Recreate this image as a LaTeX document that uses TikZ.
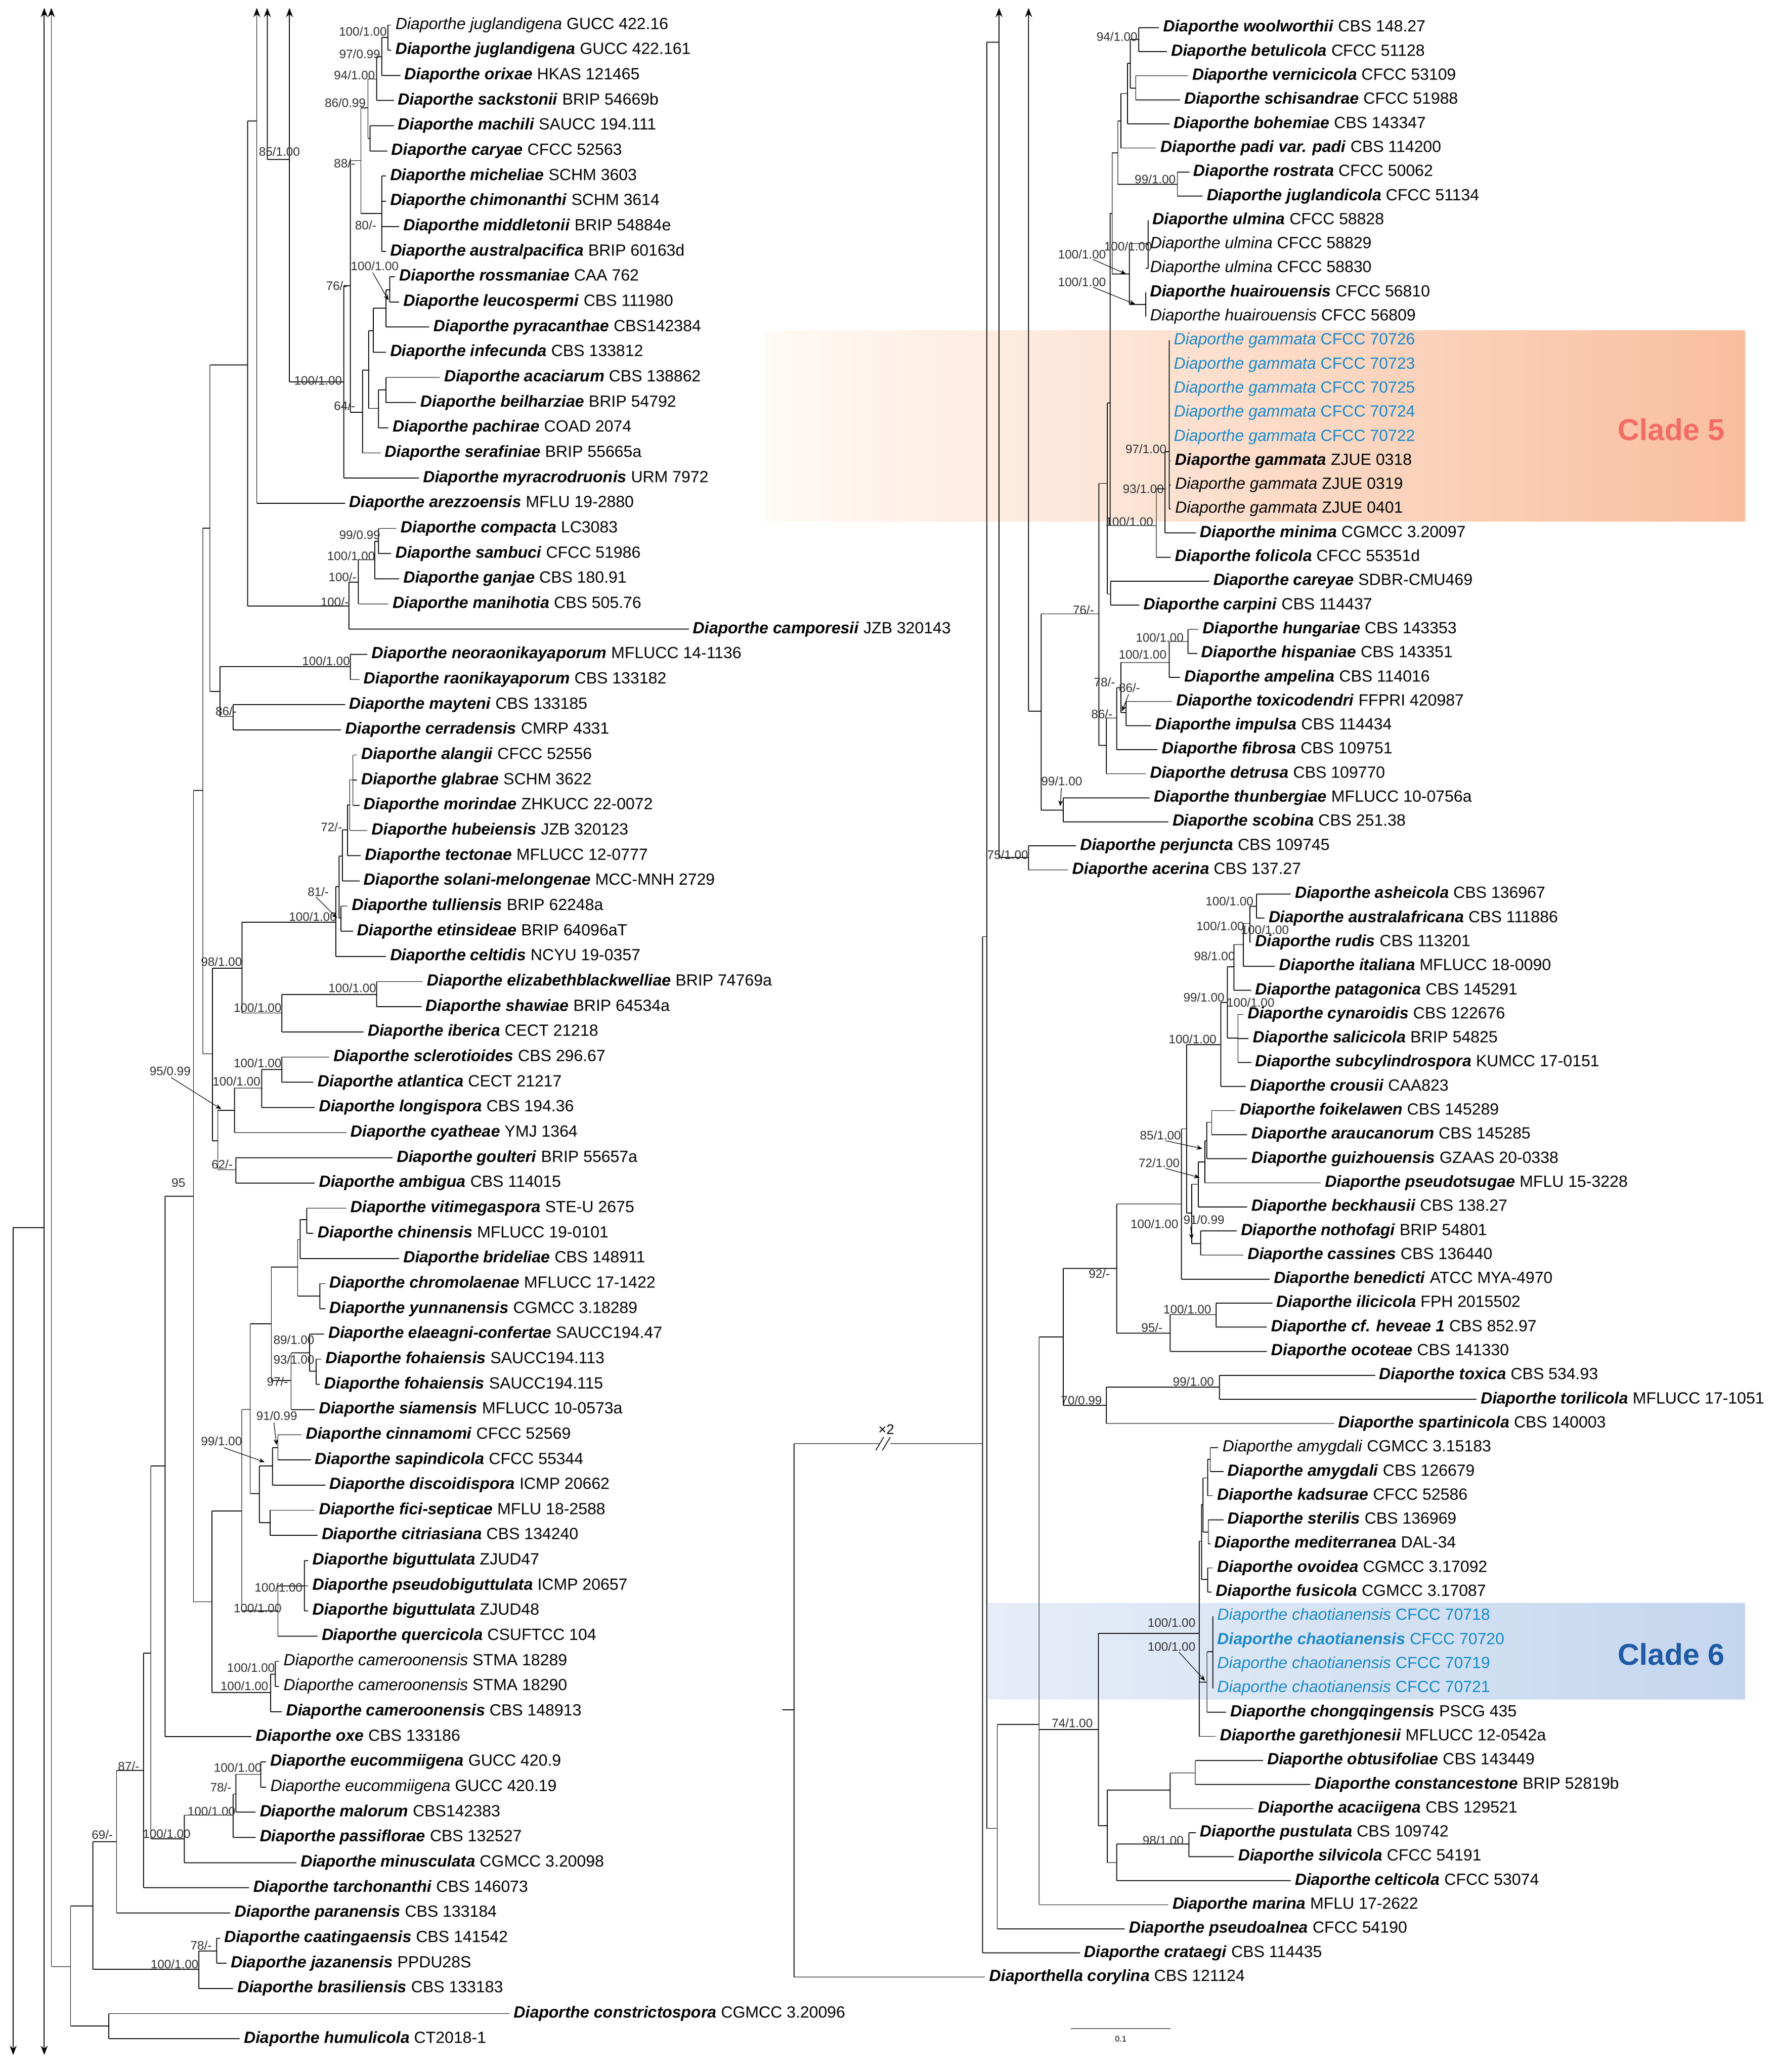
\documentclass[tikz,border=0pt]{standalone}
\usepackage{fontspec}
\setmainfont{Liberation Sans}
\usetikzlibrary{arrows.meta}
\definecolor{cblue}{HTML}{1B8ACB}
\definecolor{cfive}{HTML}{F26C64}
\definecolor{csix}{HTML}{1F5AA6}
\newcounter{tp}
\newcounter{bp}
\newcommand\Bn[2]{\textbf{\textit{Diaporthe #1}} #2}
\newcommand\Nn[2]{\textit{Diaporthe #1} #2}
\newcommand\In[5]{\draw (#1,#2)--(#1,#3); \draw (#4,#5)--(#1,#5);}
\newcommand\Lt[4]{\stepcounter{tp}\pgfmathsetmacro\yy{19+19.11*(#2-1)}\draw (#1,\yy)--({#3-3},\yy); \node[tip] (tip\arabic{tp}) at (#3,\yy) {#4};}
\newcommand\Rt[4]{\stepcounter{tp}\pgfmathsetmacro\yy{21+18.27*(#2-1)}\draw (#1,\yy)--({#3-3},\yy); \node[tip] (tip\arabic{tp}) at (#3,\yy) {#4};}
\newcommand\Bv[3]{\stepcounter{bp}\node[bsl] (bs\arabic{bp}) at (#1,#2) {#3};}
\begin{document}
\begin{tikzpicture}[x=0.02cm,y=-0.02cm,line width=0.35pt,
  tip/.style={anchor=west,inner sep=0pt,font=\fontsize{7}{8}\selectfont},
  bsl/.style={anchor=east,inner sep=0pt,font=\fontsize{5.3}{6}\selectfont,text=black!80},
  ar/.style={-{Stealth[length=4pt,width=3pt]}},
  ptr/.style={-{Stealth[length=2.5pt,width=2pt]},line width=0.25pt}]
\useasboundingbox (0,0) rectangle (1350,1573);
\shade[left color=orange!4, right color={rgb,255:red,249;green,190;blue,158}] (581,251) rectangle (1325,396);
\shade[left color={rgb,255:red,230;green,237;blue,248}, right color={rgb,255:red,196;green,214;blue,238}] (750,1217) rectangle (1325,1290);
\node[font=\bfseries\fontsize{13}{14}\selectfont,text=cfive] (c5) at (1269,326) {Clade 5};
\node[font=\bfseries\fontsize{13}{14}\selectfont,text=csix] (c6) at (1269,1256) {Clade 6};
% ===== left tree special lines
\draw[ar] (195,382.1)--(195,6);
\draw (188,92)--(195,92);
\draw[ar] (203,121)--(203,6);
\draw (203,121)--(219.8,121);
\draw[ar] (219.8,290)--(219.8,6);
\draw[ar] (39,1493)--(39,6);
\draw[ar] (33.6,300)--(33.6,6);
\draw[ar] (33.6,300)--(33.6,1560);
\draw[ar] (10,932)--(10,1560);
\draw (10,932)--(33.6,932);
% internal nodes left
\In{294.5}{19}{38.1}{290}{28.5}
\In{290}{28.5}{57.2}{286}{43}
\In{286}{43}{76.3}{279.4}{60}
\In{281}{95.4}{114.6}{279.4}{105}
\In{279.4}{60}{105}{274}{82}
\In{290}{133.7}{191}{274}{162}
\In{274}{82}{162}{266}{122}
\In{296}{210.1}{229.2}{293}{220}
\In{293}{220}{248.3}{283.4}{234}
\In{283.4}{234}{267.4}{280}{251}
\In{293}{286.5}{305.7}{287.4}{296}
\In{287.4}{296}{324.8}{280}{310}
\In{280}{251}{310}{275.4}{281}
\In{275.4}{281}{343.9}{266}{313}
\In{266}{122}{313}{261}{217}
\In{261}{217}{363}{219.8}{290}
\In{287.4}{401.2}{420.3}{284.6}{411}
\In{284.6}{411}{439.4}{272}{425}
\In{272}{425}{458.5}{265}{442}
\In{265}{442}{477.6}{188}{460}
\In{188}{92}{460}{159.4}{277}
\In{266}{496.8}{515.9}{167}{506}
\In{177}{535}{554.1}{167}{544}
\In{167}{506}{544}{159.4}{525}
\In{159.4}{277}{525}{154}{401}
\In{268}{573.2}{611.4}{265.5}{592}
\In{265.5}{592}{630.5}{264}{611}
\In{264}{611}{649.6}{260}{630}
\In{260}{630}{668.7}{257.6}{650}
\In{259}{687.9}{707}{257.6}{697}
\In{257.6}{650}{697}{255}{673}
\In{255}{673}{726.1}{183.7}{700}
\In{286}{745.2}{764.3}{214}{755}
\In{214}{755}{783.4}{183.7}{769}
\In{183.7}{700}{769}{161.4}{735}
\In{214}{802.5}{821.6}{198.8}{812}
\In{198.8}{812}{840.7}{178}{826}
\In{178}{826}{859.8}{165.4}{843}
\In{179}{879}{898.1}{165.4}{888}
\In{165.4}{843}{888}{161.4}{866}
\In{161.4}{735}{866}{154}{800}
\In{154}{401}{800}{146.9}{600}
\In{233}{917.2}{936.3}{228}{926}
\In{228}{926}{955.4}{226}{941}
\In{243}{974.5}{993.6}{226}{984}
\In{226}{941}{984}{206}{962}
\In{240}{1031.8}{1050.9}{235}{1041}
\In{235}{1012.7}{1041}{221}{1027}
\In{221}{1027}{1070.1}{206}{1048}
\In{206}{962}{1048}{190}{1005}
\In{211}{1089.2}{1108.3}{207}{1099}
\In{207}{1099}{1127.4}{197}{1113}
\In{205}{1146.5}{1165.6}{197}{1156}
\In{197}{1113}{1156}{190}{1134}
\In{190}{1005}{1134}{183.6}{1070}
\In{231}{1184.7}{1222.9}{211}{1204}
\In{211}{1204}{1242}{183.6}{1223}
\In{183.6}{1070}{1223}{160.9}{1147}
\In{209}{1261.2}{1280.3}{205.4}{1271}
\In{205.4}{1271}{1299.4}{160.9}{1285}
\In{160.9}{1147}{1285}{146.9}{1216}
\In{146.9}{600}{1216}{125.4}{908}
\In{125.4}{908}{1318.5}{114.5}{1113}
\In{198}{1337.6}{1356.7}{179}{1347}
\In{179}{1347}{1375.8}{177}{1362}
\In{177}{1362}{1394.9}{140}{1378}
\In{140}{1378}{1414}{114.5}{1396}
\In{114.5}{1113}{1396}{109}{1255}
\In{109}{1255}{1433.1}{88.5}{1344}
\In{88.5}{1344}{1452.3}{70.5}{1398}
\In{164.5}{1471.4}{1490.5}{151}{1481}
\In{151}{1481}{1509.6}{70.5}{1495}
\In{70.5}{1398}{1495}{53.6}{1447}
\In{82.7}{1528.7}{1547.8}{53.6}{1538}
\In{53.6}{1447}{1538}{39}{1493}
% tips left
\Lt{294.5}{1}{300}{\Nn{juglandigena}{GUCC 422.16}}
\Lt{294.5}{2}{300}{\Bn{juglandigena}{GUCC 422.161}}
\Lt{290}{3}{307}{\Bn{orixae}{HKAS 121465}}
\Lt{286}{4}{302}{\Bn{sackstonii}{BRIP 54669b}}
\Lt{281}{5}{302}{\Bn{machili}{SAUCC 194.111}}
\Lt{281}{6}{297}{\Bn{caryae}{CFCC 52563}}
\Lt{290}{7}{296}{\Bn{micheliae}{SCHM 3603}}
\Lt{290}{8}{296}{\Bn{chimonanthi}{SCHM 3614}}
\Lt{290}{9}{306}{\Bn{middletonii}{BRIP 54884e}}
\Lt{290}{10}{296}{\Bn{australpacifica}{BRIP 60163d}}
\Lt{296}{11}{303}{\Bn{rossmaniae}{CAA 762}}
\Lt{296}{12}{306}{\Bn{leucospermi}{CBS 111980}}
\Lt{293}{13}{329}{\Bn{pyracanthae}{CBS142384}}
\Lt{283.4}{14}{296}{\Bn{infecunda}{CBS 133812}}
\Lt{293}{15}{337}{\Bn{acaciarum}{CBS 138862}}
\Lt{293}{16}{319}{\Bn{beilharziae}{BRIP 54792}}
\Lt{287.4}{17}{298}{\Bn{pachirae}{COAD 2074}}
\Lt{275.4}{18}{292}{\Bn{serafiniae}{BRIP 55665a}}
\Lt{261}{19}{321}{\Bn{myracrodruonis}{URM 7972}}
\Lt{195}{20}{265}{\Bn{arezzoensis}{MFLU 19-2880}}
\Lt{287.4}{21}{304}{\Bn{compacta}{LC3083}}
\Lt{287.4}{22}{300}{\Bn{sambuci}{CFCC 51986}}
\Lt{284.6}{23}{306}{\Bn{ganjae}{CBS 180.91}}
\Lt{272}{24}{298}{\Bn{manihotia}{CBS 505.76}}
\Lt{265}{25}{526}{\Bn{camporesii}{JZB 320143}}
\Lt{266}{26}{282}{\Bn{neoraonikayaporum}{MFLUCC 14-1136}}
\Lt{266}{27}{276}{\Bn{raonikayaporum}{CBS 133182}}
\Lt{177}{28}{265}{\Bn{mayteni}{CBS 133185}}
\Lt{177}{29}{262}{\Bn{cerradensis}{CMRP 4331}}
\Lt{268}{30}{274}{\Bn{alangii}{CFCC 52556}}
\Lt{268}{31}{274}{\Bn{glabrae}{SCHM 3622}}
\Lt{268}{32}{276}{\Bn{morindae}{ZHKUCC 22-0072}}
\Lt{265.5}{33}{282}{\Bn{hubeiensis}{JZB 320123}}
\Lt{264}{34}{277}{\Bn{tectonae}{MFLUCC 12-0777}}
\Lt{260}{35}{276}{\Bn{solani-melongenae}{MCC-MNH 2729}}
\Lt{259}{36}{267}{\Bn{tulliensis}{BRIP 62248a}}
\Lt{259}{37}{271}{\Bn{etinsideae}{BRIP 64096aT}}
\Lt{255}{38}{296}{\Bn{celtidis}{NCYU 19-0357}}
\Lt{286}{39}{324}{\Bn{elizabethblackwelliae}{BRIP 74769a}}
\Lt{286}{40}{323}{\Bn{shawiae}{BRIP 64534a}}
\Lt{214}{41}{279}{\Bn{iberica}{CECT 21218}}
\Lt{214}{42}{253}{\Bn{sclerotioides}{CBS 296.67}}
\Lt{214}{43}{241}{\Bn{atlantica}{CECT 21217}}
\Lt{198.8}{44}{242}{\Bn{longispora}{CBS 194.36}}
\Lt{178}{45}{266}{\Bn{cyatheae}{YMJ 1364}}
\Lt{179}{46}{301}{\Bn{goulteri}{BRIP 55657a}}
\Lt{179}{47}{242}{\Bn{ambigua}{CBS 114015}}
\Lt{233}{48}{266}{\Bn{vitimegaspora}{STE-U 2675}}
\Lt{233}{49}{241}{\Bn{chinensis}{MFLUCC 19-0101}}
\Lt{228}{50}{306}{\Bn{brideliae}{CBS 148911}}
\Lt{243}{51}{250}{\Bn{chromolaenae}{MFLUCC 17-1422}}
\Lt{243}{52}{250}{\Bn{yunnanensis}{CGMCC 3.18289}}
\Lt{235}{53}{249}{\Bn{elaeagni-confertae}{SAUCC194.47}}
\Lt{240}{54}{247}{\Bn{fohaiensis}{SAUCC194.113}}
\Lt{240}{55}{246}{\Bn{fohaiensis}{SAUCC194.115}}
\Lt{221}{56}{242}{\Bn{siamensis}{MFLUCC 10-0573a}}
\Lt{211}{57}{232}{\Bn{cinnamomi}{CFCC 52569}}
\Lt{211}{58}{239}{\Bn{sapindicola}{CFCC 55344}}
\Lt{207}{59}{250}{\Bn{discoidispora}{ICMP 20662}}
\Lt{205}{60}{242}{\Bn{fici-septicae}{MFLU 18-2588}}
\Lt{205}{61}{244}{\Bn{citriasiana}{CBS 134240}}
\Lt{231}{62}{237}{\Bn{biguttulata}{ZJUD47}}
\Lt{231}{63}{237}{\Bn{pseudobiguttulata}{ICMP 20657}}
\Lt{231}{64}{237}{\Bn{biguttulata}{ZJUD48}}
\Lt{211}{65}{244}{\Bn{quercicola}{CSUFTCC 104}}
\Lt{209}{66}{215}{\Nn{cameroonensis}{STMA 18289}}
\Lt{209}{67}{215}{\Nn{cameroonensis}{STMA 18290}}
\Lt{205.4}{68}{217}{\Bn{cameroonensis}{CBS 148913}}
\Lt{125.4}{69}{194}{\Bn{oxe}{CBS 133186}}
\Lt{198}{70}{205}{\Bn{eucommiigena}{GUCC 420.9}}
\Lt{198}{71}{205}{\Nn{eucommiigena}{GUCC 420.19}}
\Lt{179}{72}{197}{\Bn{malorum}{CBS142383}}
\Lt{177}{73}{197}{\Bn{passiflorae}{CBS 132527}}
\Lt{140}{74}{228}{\Bn{minusculata}{CGMCC 3.20098}}
\Lt{109}{75}{192}{\Bn{tarchonanthi}{CBS 146073}}
\Lt{88.5}{76}{178}{\Bn{paranensis}{CBS 133184}}
\Lt{164.5}{77}{170}{\Bn{caatingaensis}{CBS 141542}}
\Lt{164.5}{78}{175}{\Bn{jazanensis}{PPDU28S}}
\Lt{151}{79}{180}{\Bn{brasiliensis}{CBS 133183}}
\Lt{82.7}{80}{390}{\Bn{constrictospora}{CGMCC 3.20096}}
\Lt{82.7}{81}{185}{\Bn{humulicola}{CT2018-1}}
% left bootstrap
\Bv{294}{24}{100/1.00}\Bv{289}{41}{97/0.99}\Bv{285}{57}{94/1.00}\Bv{278}{78}{86/0.99}
\Bv{228}{115}{85/1.00}\Bv{270}{124}{88/-}\Bv{286}{171}{80/-}\Bv{303}{202}{100/1.00}
\Bv{264}{217}{76/-}\Bv{260}{289}{100/1.00}\Bv{270}{308}{64/-}\Bv{289}{406}{99/0.99}
\Bv{285}{422}{100/1.00}\Bv{271}{438}{100/-}\Bv{265}{457}{100/-}\Bv{266}{502}{100/1.00}
\Bv{180}{540}{86/-}\Bv{260}{628}{72/-}\Bv{250}{677}{81/-}\Bv{256}{696}{100/1.00}
\Bv{184}{730}{98/1.00}\Bv{286}{750}{100/1.00}\Bv{214}{765}{100/1.00}\Bv{214}{807}{100/1.00}
\Bv{198}{821}{100/1.00}\Bv{145}{813}{95/0.99}\Bv{177}{884}{62/-}\Bv{141}{898}{95}
\Bv{239}{1017}{89/1.00}\Bv{239}{1032}{93/1.00}\Bv{219}{1049}{97/-}\Bv{226}{1075}{91/0.99}
\Bv{184}{1094}{99/1.00}\Bv{230}{1205}{100/1.00}\Bv{214}{1221}{100/1.00}\Bv{209}{1266}{100/1.00}
\Bv{204}{1280}{100/1.00}\Bv{106}{1341}{87/-}\Bv{199}{1342}{100/1.00}\Bv{176}{1357}{78/-}
\Bv{179}{1375}{100/1.00}\Bv{145}{1392}{100/1.00}\Bv{86}{1393}{69/-}\Bv{161}{1477}{78/-}
\Bv{151}{1491}{100/1.00}
\draw[ptr] (283,207)--(295,228);
\draw[ptr] (240,681)--(256,697);
\draw[ptr] (130,818)--(168,842);
\draw[ptr] (208,1080)--(210,1097);
\draw[ptr] (170,1099)--(201,1110);
% ===== right tree
\draw[ar] (781,540)--(781,6);
\draw[ar] (758.6,651)--(758.6,6);
\draw (749.4,32)--(749.4,1388);
\draw (749.4,32)--(758.6,32);
\draw (746,711)--(746,1482.6);
\draw (746,711)--(749.4,711);
\draw (603,1096)--(603,1500.9);
\draw (594,1298)--(603,1298);
\draw (603,1096)--(746,1096);
\fill[white] (668,1092) rectangle (676,1100);
\draw (665,1101)--(671,1091) (670,1101)--(676,1091);
\node[font=\fontsize{6}{7}\selectfont,inner sep=0pt] (x2) at (673,1085) {×2};
\In{864.7}{21}{39.3}{858.3}{30}
\In{862.3}{57.5}{75.8}{858.3}{67}
\In{858.3}{30}{67}{856}{48}
\In{856}{48}{94.1}{851}{71}
\In{851}{71}{112.4}{848.8}{92}
\In{894}{130.6}{148.9}{848.8}{140}
\In{848.8}{92}{140}{844.5}{116}
\In{871.8}{167.2}{203.7}{857.5}{185}
\In{870}{222}{240.2}{857.5}{231}
\In{857.5}{185}{231}{844.5}{208}
\In{844.5}{116}{208}{843}{162}
\In{887.7}{258.5}{386.4}{884.6}{343}
\In{884.6}{343}{404.7}{878}{371}
\In{878}{371}{423}{843}{399}
\In{843}{162}{399}{840.8}{306}
\In{843.2}{441.2}{459.5}{840.8}{451}
\In{840.8}{306}{451}{834.5}{367}
\In{902}{477.8}{496}{887.7}{487}
\In{887.7}{487}{514.3}{851}{503}
\In{855}{532.6}{550.8}{851}{541}
\In{851}{503}{541}{848}{522}
\In{848}{522}{569.1}{840}{545}
\In{840}{545}{587.4}{834.5}{566}
\In{834.5}{367}{566}{790.7}{466}
\In{807.4}{605.6}{623.9}{790.7}{615}
\In{790.7}{466}{615}{781}{540}
\In{781}{642.2}{660.5}{758.6}{651}
\In{954}{678.7}{697}{949}{688}
\In{949}{688}{715.3}{944}{701}
\In{944}{701}{733.5}{937}{717}
\In{937}{717}{751.8}{932}{734}
\In{940}{770.1}{806.6}{932}{788}
\In{932}{734}{788}{927}{761}
\In{927}{761}{824.9}{901}{793}
\In{920}{843.1}{861.4}{916.4}{852}
\In{916.4}{852}{879.7}{914.8}{866}
\In{914.8}{866}{898}{910}{882}
\In{910}{882}{916.2}{905}{899}
\In{911.6}{934.5}{952.8}{905}{944}
\In{905}{899}{944}{901}{921}
\In{901}{793}{921}{897}{857}
\In{897}{857}{971}{848}{914}
\In{923.5}{989.3}{1007.6}{888.5}{998}
\In{888.5}{998}{1025.8}{848}{1012}
\In{848}{914}{1012}{807.4}{963}
\In{926}{1044.1}{1062.4}{840}{1053}
\In{840}{1053}{1080.7}{807.4}{1067}
\In{807.4}{963}{1067}{789}{1015}
\In{919}{1098.9}{1117.2}{917}{1108}
\In{917}{1108}{1135.5}{913.5}{1122}
\In{917.5}{1153.7}{1172}{913.5}{1163}
\In{913.5}{1122}{1163}{912.5}{1142}
\In{917}{1190.3}{1208.5}{912.5}{1199}
\In{912.5}{1142}{1199}{910.5}{1170}
\In{921}{1226.8}{1281.6}{916.5}{1254}
\In{916.5}{1254}{1299.9}{910.5}{1277}
\In{910.5}{1170}{1318.2}{834}{1240}
\In{907.6}{1336.4}{1354.7}{888.5}{1346}
\In{888.5}{1346}{1373}{840.8}{1359}
\In{902.8}{1391.2}{1409.5}{848}{1400}
\In{848}{1400}{1427.8}{840.8}{1414}
\In{840.8}{1359}{1414}{834}{1386}
\In{834}{1240}{1386}{789}{1313}
\In{789}{1015}{1446}{757.3}{1309}
\In{757.3}{1309}{1464.3}{749.4}{1388}
% right tips
\Rt{864.7}{1}{883}{\Bn{woolworthii}{CBS 148.27}}
\Rt{864.7}{2}{889}{\Bn{betulicola}{CFCC 51128}}
\Rt{862.3}{3}{905}{\Bn{vernicicola}{CFCC 53109}}
\Rt{862.3}{4}{899}{\Bn{schisandrae}{CFCC 51988}}
\Rt{856}{5}{891}{\Bn{bohemiae}{CBS 143347}}
\Rt{851}{6}{881}{\Bn{padi var. padi}{CBS 114200}}
\Rt{894}{7}{906}{\Bn{rostrata}{CFCC 50062}}
\Rt{894}{8}{916}{\Bn{juglandicola}{CFCC 51134}}
\Rt{871.8}{9}{875}{\Bn{ulmina}{CFCC 58828}}
\Rt{871.8}{10}{873}{\Nn{ulmina}{CFCC 58829}}
\Rt{871.8}{11}{873}{\Nn{ulmina}{CFCC 58830}}
\Rt{870}{12}{873}{\Bn{huairouensis}{CFCC 56810}}
\Rt{870}{13}{873}{\Nn{huairouensis}{CFCC 56809}}
\Rt{887.7}{14}{891}{\textcolor{cblue}{\Nn{gammata}{CFCC 70726}}}
\Rt{887.7}{15}{891}{\textcolor{cblue}{\Nn{gammata}{CFCC 70723}}}
\Rt{887.7}{16}{891}{\textcolor{cblue}{\Nn{gammata}{CFCC 70725}}}
\Rt{887.7}{17}{891}{\textcolor{cblue}{\Nn{gammata}{CFCC 70724}}}
\Rt{887.7}{18}{891}{\textcolor{cblue}{\Nn{gammata}{CFCC 70722}}}
\Rt{887.7}{19}{892}{\Bn{gammata}{ZJUE 0318}}
\Rt{887.7}{20}{892}{\Nn{gammata}{ZJUE 0319}}
\Rt{887.7}{21}{892}{\Nn{gammata}{ZJUE 0401}}
\Rt{884.6}{22}{911}{\Bn{minima}{CGMCC 3.20097}}
\Rt{878}{23}{892}{\Bn{folicola}{CFCC 55351d}}
\Rt{843.2}{24}{921}{\Bn{careyae}{SDBR-CMU469}}
\Rt{843.2}{25}{868}{\Bn{carpini}{CBS 114437}}
\Rt{902}{26}{913}{\Bn{hungariae}{CBS 143353}}
\Rt{902}{27}{912}{\Bn{hispaniae}{CBS 143351}}
\Rt{887.7}{28}{899}{\Bn{ampelina}{CBS 114016}}
\Rt{855}{29}{893}{\Bn{toxicodendri}{FFPRI 420987}}
\Rt{855}{30}{877}{\Bn{impulsa}{CBS 114434}}
\Rt{848}{31}{882}{\Bn{fibrosa}{CBS 109751}}
\Rt{840}{32}{873}{\Bn{detrusa}{CBS 109770}}
\Rt{807.4}{33}{876}{\Bn{thunbergiae}{MFLUCC 10-0756a}}
\Rt{807.4}{34}{890}{\Bn{scobina}{CBS 251.38}}
\Rt{781}{35}{820}{\Bn{perjuncta}{CBS 109745}}
\Rt{781}{36}{814}{\Bn{acerina}{CBS 137.27}}
\Rt{954}{37}{983}{\Bn{asheicola}{CBS 136967}}
\Rt{954}{38}{963}{\Bn{australafricana}{CBS 111886}}
\Rt{949}{39}{953}{\Bn{rudis}{CBS 113201}}
\Rt{944}{40}{971}{\Bn{italiana}{MFLUCC 18-0090}}
\Rt{937}{41}{953}{\Bn{patagonica}{CBS 145291}}
\Rt{940}{42}{947}{\Bn{cynaroidis}{CBS 122676}}
\Rt{940}{43}{951}{\Bn{salicicola}{BRIP 54825}}
\Rt{940}{44}{953}{\Bn{subcylindrospora}{KUMCC 17-0151}}
\Rt{927}{45}{949}{\Bn{crousii}{CAA823}}
\Rt{920}{46}{941}{\Bn{foikelawen}{CBS 145289}}
\Rt{920}{47}{950}{\Bn{araucanorum}{CBS 145285}}
\Rt{916.4}{48}{950}{\Bn{guizhouensis}{GZAAS 20-0338}}
\Rt{914.8}{49}{1006}{\Bn{pseudotsugae}{MFLU 15-3228}}
\Rt{910}{50}{950}{\Bn{beckhausii}{CBS 138.27}}
\Rt{911.6}{51}{942}{\Bn{nothofagi}{BRIP 54801}}
\Rt{911.6}{52}{947}{\Bn{cassines}{CBS 136440}}
\Rt{897}{53}{967}{\Bn{benedicti}{ATCC MYA-4970}}
\Rt{923.5}{54}{969}{\Bn{ilicicola}{FPH 2015502}}
\Rt{923.5}{55}{965}{\Bn{cf. heveae 1}{CBS 852.97}}
\Rt{888.5}{56}{965}{\Bn{ocoteae}{CBS 141330}}
\Rt{926}{57}{1047}{\Bn{toxica}{CBS 534.93}}
\Rt{926}{58}{1124}{\Bn{torilicola}{MFLUCC 17-1051}}
\Rt{840}{59}{1016}{\Bn{spartinicola}{CBS 140003}}
\Rt{919}{60}{928}{\Nn{amygdali}{CGMCC 3.15183}}
\Rt{919}{61}{932}{\Bn{amygdali}{CBS 126679}}
\Rt{917}{62}{924}{\Bn{kadsurae}{CFCC 52586}}
\Rt{917.5}{63}{932}{\Bn{sterilis}{CBS 136969}}
\Rt{917.5}{64}{922}{\Bn{mediterranea}{DAL-34}}
\Rt{917}{65}{924}{\Bn{ovoidea}{CGMCC 3.17092}}
\Rt{917}{66}{923}{\Bn{fusicola}{CGMCC 3.17087}}
\Rt{921}{67}{924}{\textcolor{cblue}{\Nn{chaotianensis}{CFCC 70718}}}
\Rt{921}{68}{924}{\textcolor{cblue}{\Bn{chaotianensis}{CFCC 70720}}}
\Rt{921}{69}{924}{\textcolor{cblue}{\Nn{chaotianensis}{CFCC 70719}}}
\Rt{921}{70}{924}{\textcolor{cblue}{\Nn{chaotianensis}{CFCC 70721}}}
\Rt{916.5}{71}{934}{\Bn{chongqingensis}{PSCG 435}}
\Rt{910.5}{72}{926}{\Bn{garethjonesii}{MFLUCC 12-0542a}}
\Rt{907.6}{73}{962}{\Bn{obtusifoliae}{CBS 143449}}
\Rt{907.6}{74}{998}{\Bn{constancestone}{BRIP 52819b}}
\Rt{888.5}{75}{955}{\Bn{acaciigena}{CBS 129521}}
\Rt{902.8}{76}{911}{\Bn{pustulata}{CBS 109742}}
\Rt{902.8}{77}{940}{\Bn{silvicola}{CFCC 54191}}
\Rt{848}{78}{983}{\Bn{celticola}{CFCC 53074}}
\Rt{789}{79}{890}{\Bn{marina}{MFLU 17-2622}}
\Rt{757.3}{80}{857}{\Bn{pseudoalnea}{CFCC 54190}}
\Rt{746}{81}{823}{\Bn{crataegi}{CBS 114435}}
\Rt{603}{82}{751}{\textbf{\textit{Diaporthella corylina}} CBS 121124}
% right bootstrap
\Bv{864}{28}{94/1.00}\Bv{893}{136}{99/1.00}\Bv{875}{187}{100/1.00}\Bv{840}{193}{100/1.00}
\Bv{840}{214}{100/1.00}\Bv{886}{341}{97/1.00}\Bv{884}{371}{93/1.00}\Bv{876}{396}{100/1.00}
\Bv{831}{463}{76/-}\Bv{899}{484}{100/1.00}\Bv{886}{497}{100/1.00}\Bv{847}{518}{78/-}
\Bv{866}{522}{86/-}\Bv{845}{542}{86/-}\Bv{822}{593}{99/1.00}\Bv{781}{649}{75/1.00}
\Bv{952}{684}{100/1.00}\Bv{945}{703}{100/1.00}\Bv{979}{706}{100/1.00}\Bv{938}{726}{98/1.00}
\Bv{930}{757}{99/1.00}\Bv{968}{761}{100/1.00}\Bv{924}{789}{100/1.00}\Bv{897}{862}{85/1.00}
\Bv{896}{883}{72/1.00}\Bv{930}{926}{91/0.99}\Bv{895}{929}{100/1.00}\Bv{843}{967}{92/-}
\Bv{920}{994}{100/1.00}\Bv{883}{1008}{95/-}\Bv{922}{1049}{99/1.00}\Bv{837}{1063}{70/0.99}
\Bv{908}{1232}{100/1.00}\Bv{908}{1250}{100/1.00}\Bv{830}{1308}{74/1.00}\Bv{899}{1397}{98/1.00}
\draw[ptr] (830,197)--(855,208);
\draw[ptr] (830,218)--(862,231);
\draw[ptr] (806,598)--(805,612);
\draw[ptr] (857,527)--(852,540);
\draw[ptr] (885,866)--(913,872);
\draw[ptr] (885,887)--(911,894);
\draw[ptr] (904,931)--(905,941);
\draw[ptr] (895,1254)--(915,1276);
% scale bar
\draw (813,1540)--(889,1540);
\node[font=\fontsize{3.5}{4}\selectfont,inner sep=0pt] (sc) at (851,1548) {0.1};
\end{tikzpicture}
\end{document}
